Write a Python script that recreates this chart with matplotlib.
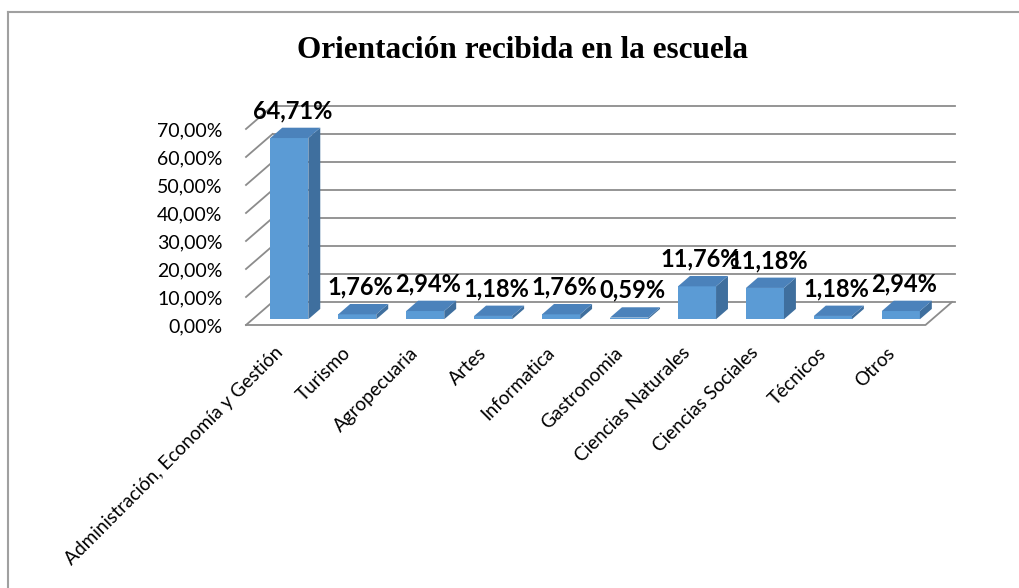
import matplotlib
matplotlib.use("Agg")
import matplotlib.pyplot as plt
from matplotlib.patches import Polygon
from matplotlib.lines import Line2D
import numpy as np

categorias = ["Administración, Economía y Gestión", "Turismo", "Agropecuaria",
              "Artes", "Informatica", "Gastronomia", "Ciencias Naturales",
              "Ciencias Sociales", "Técnicos", "Otros"]
porcentajes = [64.71, 1.76, 2.94, 1.18, 1.76, 0.59, 11.76, 11.18, 1.18, 2.94]
ticks_y = [0, 10, 20, 30, 40, 50, 60, 70]

W, H = 1019, 588
fig = plt.figure(figsize=(W / 100, H / 100), dpi=100)
fig.patch.set_facecolor("white")

# depth of the fake 3D box, in data units
DX = 0.39
DY = 8.2
ax = fig.add_axes([246 / W, 1 - 325 / H, 706 / W, 219 / H])
ax.set_xlim(-0.5, 9.5 + DX)
ax.set_ylim(0, 70 + DY)
for s in ax.spines.values():
    s.set_visible(False)

grid_col = "#8c8c8c"
for v in ticks_y:
    ax.plot([-0.5, -0.5 + DX], [v, v + DY], color=grid_col, lw=1.3, clip_on=False, zorder=1)
    ax.plot([-0.5 + DX, 9.5 + DX + 0.05], [v + DY, v + DY], color=grid_col, lw=1.3, clip_on=False, zorder=1)
# floor
ax.plot([-0.5, 9.5, 9.5 + DX], [0, 0, DY], color=grid_col, lw=1.3, clip_on=False, zorder=1)

front = "#5b9bd5"
side = "#3f6f9e"
top = "#4b82bb"
w = 0.56
d0, d1 = 0.25, 0.7
x = np.arange(len(categorias))
for i, v in zip(x, porcentajes):
    xl = i - w / 2 + d0 * DX + 0.04
    xr = i + w / 2 + d0 * DX + 0.04
    yb = d0 * DY
    ex = (d1 - d0) * DX
    ey = (d1 - d0) * DY
    ax.add_patch(Polygon([(xl, yb), (xr, yb), (xr, yb + v), (xl, yb + v)],
                         closed=True, facecolor=front, edgecolor="none", zorder=3, clip_on=False))
    ax.add_patch(Polygon([(xr, yb), (xr + ex, yb + ey), (xr + ex, yb + ey + v), (xr, yb + v)],
                         closed=True, facecolor=side, edgecolor="none", zorder=3, clip_on=False))
    ax.add_patch(Polygon([(xl, yb + v), (xr, yb + v), (xr + ex, yb + ey + v), (xl + ex, yb + ey + v)],
                         closed=True, facecolor=top, edgecolor="none", zorder=3, clip_on=False))
    etiqueta = f"{v:.2f}%".replace(".", ",")
    ax.annotate(etiqueta, (i + (d0 + d1) / 2 * DX, v + d1 * DY), xytext=(0, 4),
                textcoords="offset points", ha="center", va="bottom",
                fontsize=17, fontweight="bold", family="Lato", zorder=5)

ax.set_yticks(ticks_y)
ax.set_yticklabels([f"{t:.2f}%".replace(".", ",") for t in ticks_y], family="Lato", fontsize=14)
ax.tick_params(axis="y", length=0, pad=17)
ax.set_xticks(x)
ax.set_xticklabels(categorias, rotation=45, ha="right", va="center",
                   rotation_mode="anchor", family="Lato", fontsize=13.7)
ax.tick_params(axis="x", length=0, pad=18)

fig.text(0.513, 1 - 51 / H, "Orientación recibida en la escuela", ha="center", va="center",
         family="Liberation Serif", fontweight="bold", fontsize=22.5)

# outer frame (partly cut off like the original)
fig.add_artist(Line2D([7.5 / W, 1], [1 - 11.5 / H, 1 - 11.5 / H], color="#a0a0a0", lw=1.5))
fig.add_artist(Line2D([7.5 / W, 7.5 / W], [0, 1 - 11.5 / H], color="#a0a0a0", lw=1.5))

fig.savefig("out.png", dpi=100)
